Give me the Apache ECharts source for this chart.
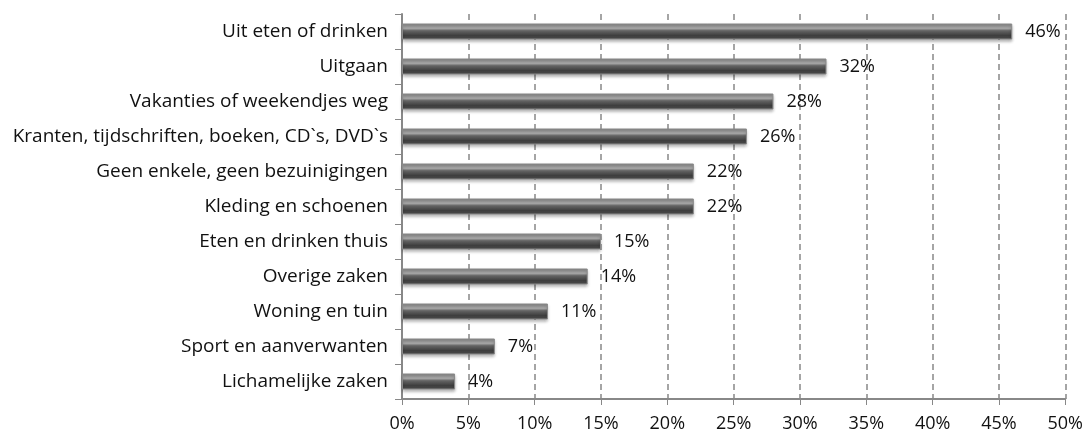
<!DOCTYPE html>
<html>
<head>
<meta charset="utf-8">
<script src="https://cdn.jsdelivr.net/npm/echarts@6/dist/echarts.min.js"></script>
<style>
  html, body { margin: 0; padding: 0; background: #fff; }
  #chart { width: 1086px; height: 434px; }
</style>
</head>
<body>
<div id="chart"></div>
<script>
const categories = [
  'Uit eten of drinken',
  'Uitgaan',
  'Vakanties of weekendjes weg',
  'Kranten, tijdschriften, boeken, CD`s, DVD`s',
  'Geen enkele, geen bezuinigingen',
  'Kleding en schoenen',
  'Eten en drinken thuis',
  'Overige zaken',
  'Woning en tuin',
  'Sport en aanverwanten',
  'Lichamelijke zaken'
];
const values = [46, 32, 28, 26, 22, 22, 15, 14, 11, 7, 4];

const chart = echarts.init(document.getElementById('chart'));

// pseudo-3D cylinder look
const barGradient = new echarts.graphic.LinearGradient(0, 0, 0, 1, [
  { offset: 0, color: '#787878' },
  { offset: 0.15, color: '#9a9a9a' },
  { offset: 0.3, color: '#acacac' },
  { offset: 0.45, color: '#646464' },
  { offset: 0.75, color: '#3e3e3e' },
  { offset: 1, color: '#4c4c4c' }
]);

const option = {
  backgroundColor: '#fff',
  animation: false,
  grid: { left: 402, right: 19, top: 14, bottom: 35 },
  xAxis: {
    type: 'value',
    min: 0,
    max: 50,
    interval: 5,
    axisLine: { show: true, lineStyle: { color: '#888', width: 2 } },
    axisTick: { show: true, length: 6, lineStyle: { color: '#888' } },
    axisLabel: {
      formatter: '{value}%',
      color: '#111',
      fontFamily: 'Open Sans',
      fontSize: 18,
      margin: 16
    },
    splitLine: { show: true, lineStyle: { color: '#888', type: [6, 4], width: 1.5 } }
  },
  yAxis: {
    type: 'category',
    inverse: true,
    data: categories,
    axisLine: { show: true, lineStyle: { color: '#888', width: 2 } },
    axisTick: { show: true, length: 7, lineStyle: { color: '#888' } },
    axisLabel: {
      color: '#111',
      fontFamily: 'Open Sans',
      fontSize: 19,
      margin: 14
    }
  },
  series: [{
    type: 'bar',
    data: values,
    barWidth: 16,
    itemStyle: {
      color: barGradient,
      borderColor: '#8a8a8a',
      borderWidth: 1,
      shadowColor: 'rgba(0,0,0,0.3)',
      shadowBlur: 3,
      shadowOffsetY: 2
    },
    label: {
      show: true,
      position: 'right',
      distance: 13,
      formatter: '{c}%',
      color: '#111',
      fontFamily: 'Open Sans',
      fontSize: 18
    }
  }]
};

option && chart.setOption(option);
</script>
</body>
</html>
